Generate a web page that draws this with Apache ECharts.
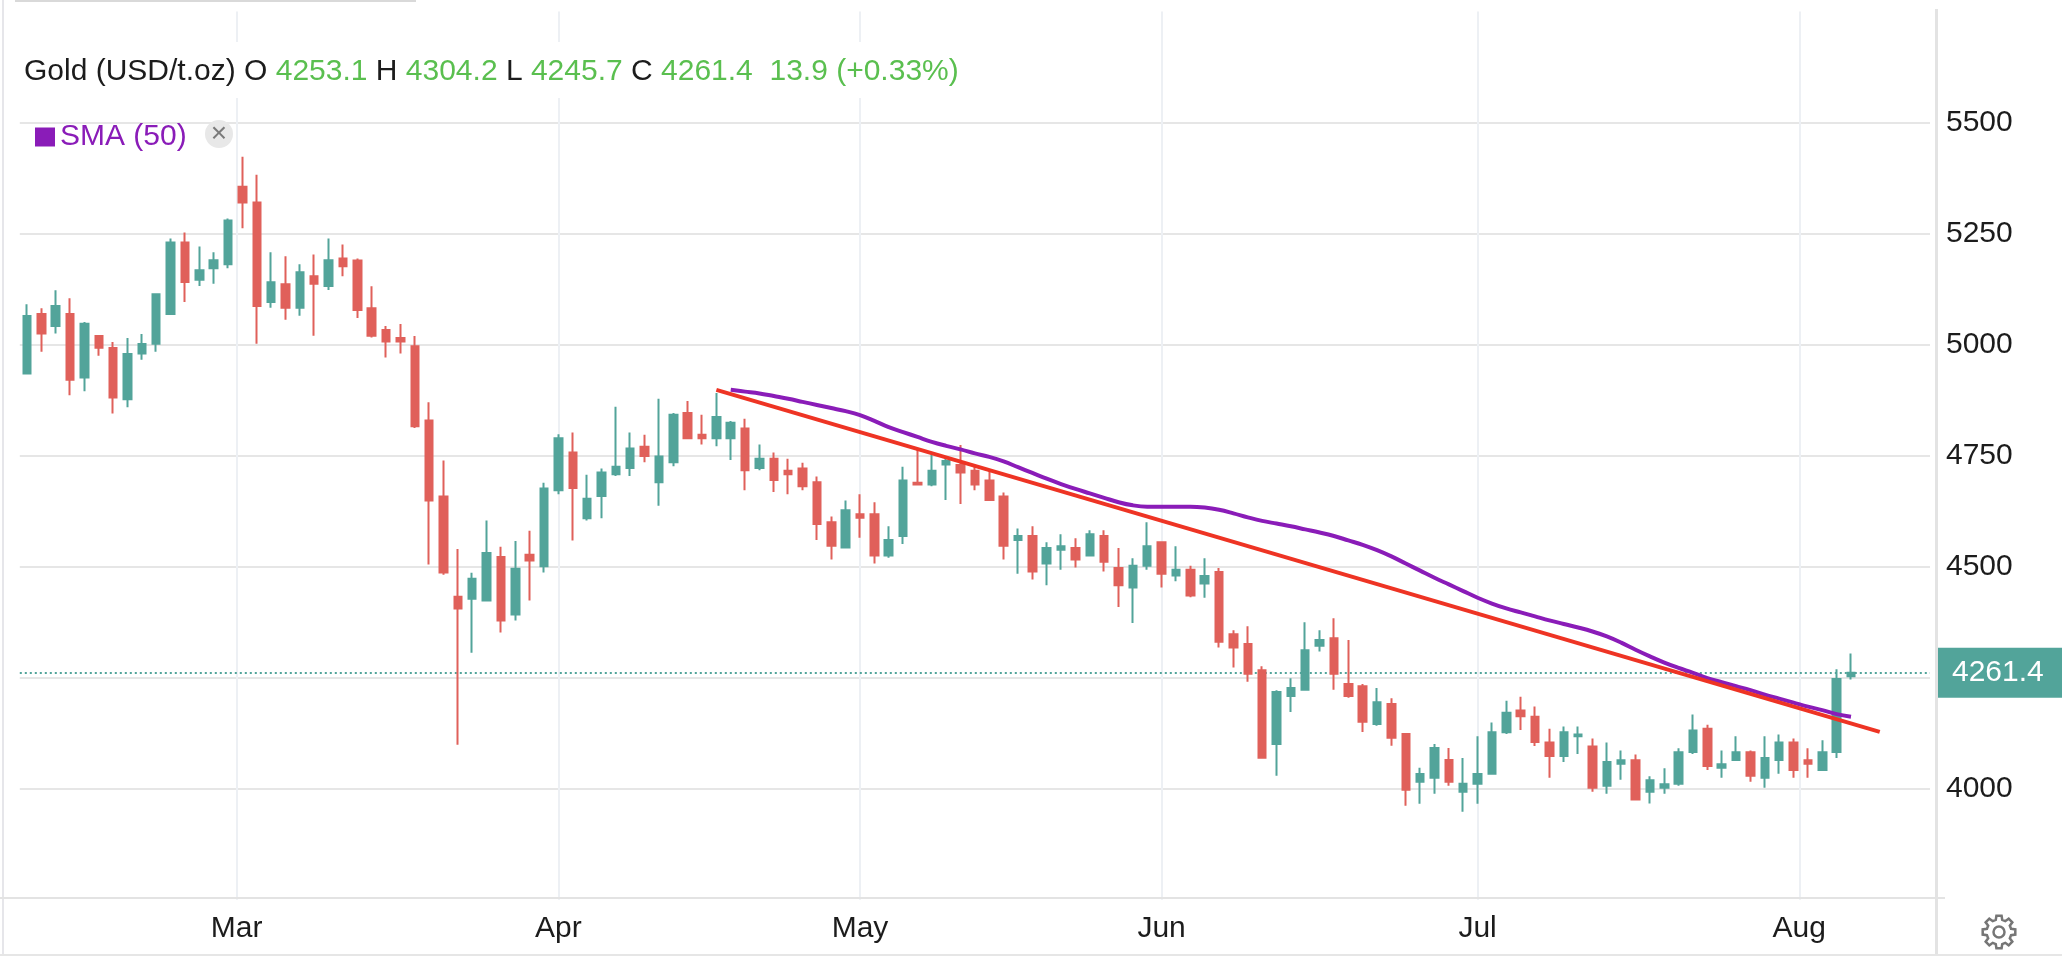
<!DOCTYPE html>
<html>
<head>
<meta charset="utf-8">
<title>Gold (USD/t.oz)</title>
<script src="https://cdn.jsdelivr.net/npm/echarts@6/dist/echarts.min.js"></script>
<style>
  html, body { margin: 0; padding: 0; background: #fff; }
  #chart { width: 2062px; height: 962px; }
</style>
</head>
<body>
<div id="chart"></div>
<script>
// trading days (Good Friday missing), last 5 are empty slots on the right
const dates = [
  '2026-02-09','2026-02-10','2026-02-11','2026-02-12','2026-02-13','2026-02-16','2026-02-17','2026-02-18','2026-02-19','2026-02-20',
  '2026-02-23','2026-02-24','2026-02-25','2026-02-26','2026-02-27',
  '2026-03-02','2026-03-03','2026-03-04','2026-03-05','2026-03-06','2026-03-09','2026-03-10','2026-03-11','2026-03-12','2026-03-13',
  '2026-03-16','2026-03-17','2026-03-18','2026-03-19','2026-03-20','2026-03-23','2026-03-24','2026-03-25','2026-03-26','2026-03-27',
  '2026-03-30','2026-03-31',
  '2026-04-01','2026-04-02','2026-04-06','2026-04-07','2026-04-08','2026-04-09','2026-04-10','2026-04-13','2026-04-14','2026-04-15',
  '2026-04-16','2026-04-17','2026-04-20','2026-04-21','2026-04-22','2026-04-23','2026-04-24','2026-04-27','2026-04-28','2026-04-29',
  '2026-04-30',
  '2026-05-01','2026-05-04','2026-05-05','2026-05-06','2026-05-07','2026-05-08','2026-05-11','2026-05-12','2026-05-13','2026-05-14',
  '2026-05-15','2026-05-18','2026-05-19','2026-05-20','2026-05-21','2026-05-22','2026-05-25','2026-05-26','2026-05-27','2026-05-28',
  '2026-05-29',
  '2026-06-01','2026-06-02','2026-06-03','2026-06-04','2026-06-05','2026-06-08','2026-06-09','2026-06-10','2026-06-11','2026-06-12',
  '2026-06-15','2026-06-16','2026-06-17','2026-06-18','2026-06-19','2026-06-22','2026-06-23','2026-06-24','2026-06-25','2026-06-26',
  '2026-06-29','2026-06-30',
  '2026-07-01','2026-07-02','2026-07-03','2026-07-06','2026-07-07','2026-07-08','2026-07-09','2026-07-10','2026-07-13','2026-07-14',
  '2026-07-15','2026-07-16','2026-07-17','2026-07-20','2026-07-21','2026-07-22','2026-07-23','2026-07-24','2026-07-27','2026-07-28',
  '2026-07-29','2026-07-30','2026-07-31',
  '2026-08-03','2026-08-04','2026-08-05','2026-08-06','2026-08-07','2026-08-10','2026-08-11','2026-08-12','2026-08-13'
];

const opens = [
  4935, 5069, 5042, 5069, 4926, 5019, 4992, 4877, 4980, 5002,
  5069, 5230, 5146, 5172, 5181, 5355, 5320, 5096, 5136, 5083,
  5154, 5132, 5194, 5189, 5082, 5033, 5015, 4996, 4829, 4658,
  4432, 4428, 4424, 4522, 4392, 4527, 4501, 4672, 4757, 4609,
  4659, 4708, 4722, 4770, 4690, 4735, 4846, 4797, 4789, 4789,
  4811, 4722, 4743, 4716, 4721, 4690, 4600, 4543, 4618, 4618,
  4525, 4569, 4689, 4685, 4730, 4729, 4716, 4694, 4658, 4560,
  4569, 4507, 4538, 4542, 4525, 4569, 4497, 4453, 4502, 4555,
  4480, 4493, 4462, 4488, 4348, 4326, 4267, 4101, 4209, 4223,
  4322, 4339, 4236, 4231, 4146, 4191, 4123, 4016, 4025, 4065,
  3993, 4011, 4034, 4127, 4176, 4162, 4104, 4074, 4118, 4095,
  4007, 4056, 4064, 3993, 4002, 4011, 4083, 4135, 4047, 4065,
  4082, 4025, 4065, 4104, 4064, 4042, 4083, 4253.1
];
const closes = [
  5064, 5025, 5087, 4921, 5047, 4993, 4881, 4979, 5001, 5113,
  5230, 5141, 5167, 5190, 5279, 5320, 5087, 5140, 5083, 5163,
  5137, 5190, 5176, 5078, 5020, 5007, 5007, 4816, 4649, 4487,
  4406, 4473, 4531, 4379, 4495, 4514, 4676, 4789, 4677, 4653,
  4712, 4725, 4766, 4749, 4748, 4842, 4789, 4789, 4837, 4824,
  4717, 4743, 4695, 4708, 4681, 4596, 4547, 4627, 4610, 4525,
  4560, 4694, 4685, 4716, 4738, 4712, 4685, 4650, 4547, 4569,
  4489, 4542, 4546, 4516, 4573, 4511, 4458, 4502, 4546, 4484,
  4493, 4435, 4479, 4331, 4318, 4259, 4070, 4218, 4227, 4312,
  4335, 4259, 4209, 4151, 4195, 4115, 3998, 4033, 4092, 4016,
  4011, 4033, 4127, 4171, 4163, 4105, 4074, 4127, 4122, 4002,
  4060, 4064, 3976, 4019, 4010, 4082, 4131, 4051, 4055, 4082,
  4029, 4069, 4104, 4042, 4056, 4082, 4247, 4261.4
];
const lows = [
  4935, 4984, 5025, 4886, 4895, 4975, 4845, 4859, 4966, 4984,
  5069, 5096, 5132, 5137, 5172, 5262, 5002, 5083, 5056, 5065,
  5020, 5123, 5154, 5060, 5016, 4971, 4980, 4812, 4505, 4482,
  4099, 4306, 4424, 4352, 4379, 4424, 4487, 4663, 4559, 4604,
  4609, 4704, 4704, 4735, 4637, 4726, 4789, 4775, 4771, 4740,
  4672, 4717, 4668, 4663, 4672, 4560, 4516, 4543, 4565, 4507,
  4520, 4551, 4685, 4681, 4650, 4641, 4672, 4650, 4516, 4484,
  4471, 4458, 4493, 4498, 4525, 4489, 4409, 4373, 4493, 4453,
  4467, 4431, 4430, 4318, 4273, 4241, 4070, 4029, 4173, 4223,
  4309, 4223, 4205, 4128, 4142, 4097, 3962, 3966, 3989, 4007,
  3948, 3966, 4034, 4123, 4132, 4096, 4025, 4060, 4078, 3993,
  3989, 4020, 3976, 3967, 3989, 4007, 4078, 4042, 4025, 4065,
  4016, 4002, 4034, 4025, 4025, 4042, 4069, 4245.7
];
const highs = [
  5091, 5082, 5122, 5104, 5051, 5019, 5006, 5015, 5024, 5113,
  5239, 5252, 5221, 5208, 5284, 5423, 5382, 5208, 5199, 5181,
  5203, 5239, 5225, 5194, 5131, 5042, 5046, 5019, 4870, 4739,
  4540, 4486, 4604, 4545, 4558, 4581, 4689, 4798, 4802, 4707,
  4721, 4860, 4802, 4797, 4878, 4846, 4873, 4842, 4891, 4828,
  4833, 4775, 4757, 4743, 4734, 4703, 4613, 4649, 4663, 4645,
  4591, 4725, 4765, 4752, 4743, 4774, 4725, 4716, 4667, 4586,
  4591, 4555, 4573, 4564, 4582, 4582, 4542, 4519, 4600, 4555,
  4546, 4502, 4519, 4497, 4357, 4366, 4276, 4222, 4249, 4375,
  4357, 4384, 4335, 4236, 4227, 4204, 4123, 4047, 4101, 4092,
  4069, 4118, 4149, 4198, 4207, 4185, 4135, 4140, 4140, 4113,
  4104, 4086, 4077, 4028, 4046, 4091, 4167, 4144, 4086, 4118,
  4086, 4118, 4122, 4113, 4091, 4109, 4269, 4304.2
];

// SMA (50), starting 2026-04-20
const smaStart = '2026-04-20';
const smaValues = [
  4898, 4894, 4890, 4884, 4878, 4871, 4864, 4857, 4850, 4841,
  4828, 4814, 4803, 4792, 4781, 4772, 4764, 4755, 4747, 4737,
  4724, 4711, 4698, 4686, 4675, 4665, 4655, 4645, 4638, 4635,
  4635, 4635, 4635, 4633, 4628, 4620, 4611, 4603, 4597, 4591,
  4584, 4577, 4569, 4559, 4549, 4537, 4523, 4507, 4491, 4475,
  4460, 4445, 4430, 4417, 4406, 4397, 4388, 4379, 4371, 4363,
  4354, 4343, 4329, 4313, 4298, 4284, 4272, 4261, 4249, 4240,
  4231, 4222, 4212, 4203, 4194, 4185, 4177, 4168, 4162
];

// hand drawn trend line
const trendPoints = [['2026-04-17', 4898], ['2026-08-10', 4128]];

const yGridTicks = [4000, 4250, 4500, 4750, 5000, 5250, 5500];
const yLabelTicks = [4000, 4500, 4750, 5000, 5250, 5500];
// month separators in slot units (0 = first candle)
const monthTicks = [14.6, 37, 58, 79, 101, 123.4];
const monthLabels = ['Mar', 'Apr', 'May', 'Jun', 'Jul', 'Aug'];

const lastOHLC = { o: 4253.1, h: 4304.2, l: 4245.7, c: 4261.4 };
const change = 13.9;
const changePct = 0.33;

const UP = '#52a49a';
const DOWN = '#e0605a';
const FONT = '"Liberation Sans", Arial, Helvetica, sans-serif';

const chart = echarts.init(document.getElementById('chart'));

const candleData = opens.map((o, i) => [o, closes[i], lows[i], highs[i]]);
const smaData = smaValues.map((v, i) => [dates[dates.indexOf(smaStart) + i], v]);

const gridLines = yGridTicks.map(v => ({
  yAxis: v,
  lineStyle: { color: '#e6e6e6', width: 2, type: 'solid' },
  label: { show: false }
})).concat(monthTicks.map((x, i) => ({
  xAxis: x,
  lineStyle: { color: '#edf0f4', width: 2, type: 'solid' },
  label: {
    show: true,
    position: 'start',
    distance: 14,
    formatter: monthLabels[i],
    color: '#1c1c1c',
    fontSize: 30,
    fontFamily: FONT
  }
})));

const header =
  '{k|Gold (USD/t.oz) O }{g|' + lastOHLC.o.toFixed(1) + '}' +
  '{k| H }{g|' + lastOHLC.h.toFixed(1) + '}' +
  '{k| L }{g|' + lastOHLC.l.toFixed(1) + '}' +
  '{k| C }{g|' + lastOHLC.c.toFixed(1) + '}' +
  '{g|  ' + change.toFixed(1) + ' (+' + changePct.toFixed(2) + '%)}';

// outlined gear icon for the settings button
const gearPts = [];
for (let k = 0; k < 8; k++) {
  const a = k * 45;
  [[12.5, a - 15], [16.5, a - 9], [16.5, a + 9], [12.5, a + 15]].forEach(([r, deg]) => {
    const t = deg * Math.PI / 180;
    gearPts.push([r * Math.cos(t), r * Math.sin(t)]);
  });
}

const option = {
  animation: false,
  textStyle: { fontFamily: FONT },
  grid: { left: 19.8, top: 11.4, width: 1910.2, height: 888.4 },
  legend: {
    data: ['SMA (50)'],
    left: 30,
    top: 117,
    icon: 'rect',
    itemWidth: 20,
    itemHeight: 19,
    selectedMode: false,
    textStyle: { color: '#8a1cb8', fontSize: 30, fontFamily: FONT }
  },
  xAxis: [
    {
      type: 'category',
      data: dates,
      boundaryGap: true,
      axisLine: { show: false },
      axisTick: { show: false },
      axisLabel: { show: false },
      splitLine: { show: false }
    },
    {
      type: 'value',
      min: -0.5,
      max: dates.length - 0.5,
      show: false
    }
  ],
  yAxis: {
    type: 'value',
    position: 'right',
    min: 3750,
    max: 5750,
    interval: 250,
    axisLine: { show: false },
    axisTick: { show: false },
    splitLine: { show: false },
    axisLabel: {
      margin: 16,
      fontSize: 30,
      color: '#1c1c1c',
      fontFamily: FONT,
      formatter: v => (yLabelTicks.indexOf(v) >= 0 ? String(v) : '')
    }
  },
  series: [
    {
      type: 'line',
      xAxisIndex: 1,
      data: [],
      silent: true,
      markLine: { silent: true, symbol: 'none', z: 1, animation: false, data: gridLines }
    },
    {
      type: 'line',
      data: [],
      silent: true,
      markLine: {
        silent: true,
        symbol: 'none',
        z: 2,
        animation: false,
        data: [{
          yAxis: lastOHLC.c,
          lineStyle: { color: UP, width: 2, type: [2, 3] },
          label: {
            show: true,
            position: 'end',
            distance: 6,
            formatter: lastOHLC.c.toFixed(1),
            color: '#fff',
            backgroundColor: UP,
            fontSize: 30,
            fontFamily: FONT,
            padding: [10, 22, 10, 16]
          }
        }]
      }
    },
    {
      type: 'candlestick',
      z: 3,
      barWidth: 8,
      data: candleData,
      itemStyle: {
        color: UP,
        color0: DOWN,
        borderColor: UP,
        borderColor0: DOWN,
        borderWidth: 2
      }
    },
    {
      name: 'SMA (50)',
      type: 'line',
      z: 4,
      data: smaData,
      showSymbol: false,
      smooth: 0.4,
      itemStyle: { color: '#8a1cb8' },
      lineStyle: { color: '#8a1cb8', width: 4 }
    },
    {
      type: 'line',
      z: 5,
      data: trendPoints,
      showSymbol: false,
      lineStyle: { color: '#ee3424', width: 4 }
    }
  ],
  graphic: [
    { type: 'rect', z: 10, shape: { x: 15, y: 0, width: 401, height: 2 }, style: { fill: '#d9d9d9' } },
    { type: 'rect', z: 10, shape: { x: 2, y: 0, width: 2, height: 955 }, style: { fill: '#e6e6ea' } },
    { type: 'rect', z: 10, shape: { x: 0, y: 897, width: 1945, height: 2 }, style: { fill: '#e3e3e3' } },
    { type: 'rect', z: 10, shape: { x: 1935, y: 9, width: 3, height: 946 }, style: { fill: '#e3e3e3' } },
    { type: 'rect', z: 10, shape: { x: 0, y: 954, width: 2062, height: 2 }, style: { fill: '#e6e6e6' } },
    { type: 'rect', z: 10, shape: { x: 14, y: 42, width: 950, height: 56 }, style: { fill: '#fff' } },
    {
      type: 'text',
      z: 11,
      x: 24,
      y: 72,
      style: {
        text: header,
        verticalAlign: 'middle',
        font: '30px ' + FONT,
        rich: {
          k: { fill: '#1c1c1c', fontSize: 30, fontFamily: FONT },
          g: { fill: '#5abf4f', fontSize: 30, fontFamily: FONT }
        }
      }
    },
    { type: 'circle', z: 10, shape: { cx: 219, cy: 134, r: 14 }, style: { fill: '#e8e8e8' } },
    {
      type: 'text',
      z: 11,
      x: 219,
      y: 134,
      style: { text: '×', fill: '#7a7a7a', font: '28px ' + FONT, align: 'center', verticalAlign: 'middle' }
    },
    {
      type: 'group',
      z: 10,
      x: 1999,
      y: 932,
      children: [
        { type: 'polygon', shape: { points: gearPts }, style: { fill: 'none', stroke: '#767676', lineWidth: 2.5 } },
        { type: 'circle', shape: { cx: 0, cy: 0, r: 5.5 }, style: { fill: 'none', stroke: '#767676', lineWidth: 2.5 } }
      ]
    }
  ]
};

chart.setOption(option);
</script>
</body>
</html>
